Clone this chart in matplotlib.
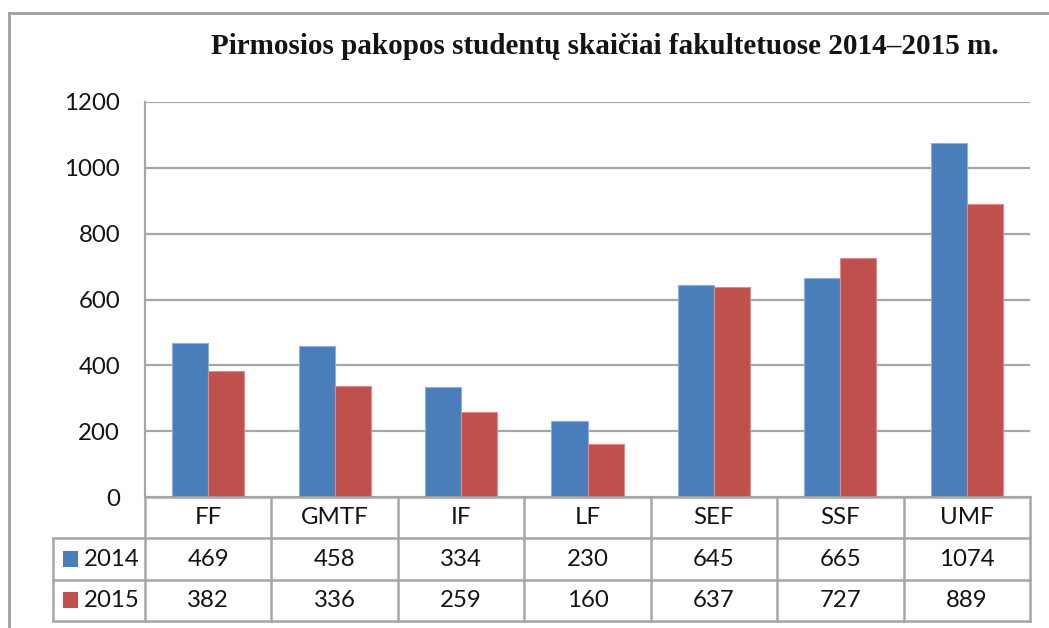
import matplotlib
matplotlib.use("Agg")
import matplotlib.pyplot as plt
from matplotlib.lines import Line2D
from matplotlib.patches import Rectangle
import numpy as np

categories = ["FF", "GMTF", "IF", "LF", "SEF", "SSF", "UMF"]
series_names = ["2014", "2015"]
values_2014 = [469, 458, 334, 230, 645, 665, 1074]
values_2015 = [382, 336, 259, 160, 637, 727, 889]
y_ticks = [0, 200, 400, 600, 800, 1000, 1200]
title = "Pirmosios pakopos studentų skaičiai fakultetuose 2014–2015 m."

colors = ["#4a7ebb", "#c0504d"]
edge_colors = ["#8cb0dc", "#e08a88"]
grid_c = "#a6a6a6"
font = ["Lato", "DejaVu Sans"]
fs = 17.3

W, H = 1049, 628
fig = plt.figure(figsize=(W / 100, H / 100), dpi=100)

def fx(px):
    return px / W

def fy(py):
    return 1 - py / H

L, R, T, B = 145, 1030, 102, 497
ax = fig.add_axes([fx(L), fy(B), fx(R) - fx(L), fy(T) - fy(B)])
x = np.arange(len(categories))
bw = 0.285
series = [values_2014, values_2015]
for i, vals in enumerate(series):
    ax.bar(x + (i - 0.5) * bw, vals, width=bw, color=colors[i],
           edgecolor=edge_colors[i], linewidth=0.8, zorder=3)
ax.set_xlim(-0.5, len(categories) - 0.5)
ax.set_ylim(0, 1200)
ax.set_yticks(y_ticks)
ax.set_yticklabels([str(v) for v in y_ticks], fontfamily=font, fontsize=fs, color="#141414")
ax.tick_params(axis="y", length=0, pad=18)
ax.set_xticks([])
ax.grid(axis="y", color=grid_c, linewidth=1.6, zorder=0)
for s in ["top", "right", "bottom"]:
    ax.spines[s].set_visible(False)
ax.spines["left"].set_color(grid_c)
ax.spines["left"].set_linewidth(1.6)

# data table
TL = 53
unit = (R - L) / len(categories)
tax = fig.add_axes([fx(TL), fy(621), fx(R) - fx(TL), fy(B) - fy(621)])
tax.set_xlim(-0.5 - (L - TL) / unit, len(categories) - 0.5)
tax.set_ylim(3, 0)
tax.axis("off")
x0 = -0.5 - (L - TL) / unit
lw = 1.8
kw = dict(color=grid_c, linewidth=lw, clip_on=False, solid_capstyle="projecting")
tax.plot([-0.5, len(categories) - 0.5], [0, 0], **kw)
for yy in [1, 2, 3]:
    tax.plot([x0, len(categories) - 0.5], [yy, yy], **kw)
for xx in np.arange(len(categories) + 1) - 0.5:
    tax.plot([xx, xx], [0, 3], **kw)
tax.plot([x0, x0], [1, 3], **kw)
for j, c in enumerate(categories):
    tax.text(j, 0.5, c, ha="center", va="center", fontfamily=font, fontsize=fs, color="#141414")
    for i, vals in enumerate(series):
        tax.text(j, 1.5 + i, str(vals[j]), ha="center", va="center",
                 fontfamily=font, fontsize=fs, color="#141414")
sq_w = 15 / unit
for i, name in enumerate(series_names):
    tax.add_patch(Rectangle((x0 + 10 / unit, 1.5 + i - 0.19), sq_w, 0.38,
                            facecolor=colors[i], edgecolor="none", clip_on=False))
    tax.text(x0 + 31 / unit, 1.5 + i, name, ha="left", va="center",
             fontfamily=font, fontsize=fs, color="#141414")

fig.text(fx(605), fy(47), title, ha="center", va="center",
         fontfamily=["Liberation Serif", "DejaVu Serif"], fontweight="bold", fontsize=21, color="#141414")

fig.add_artist(Line2D([fx(9), fx(9)], [fy(13), 0], color="#a0a0a0", linewidth=2))
fig.add_artist(Line2D([fx(9), 1], [fy(13), fy(13)], color="#a0a0a0", linewidth=2))

fig.savefig("out.png", dpi=100)
